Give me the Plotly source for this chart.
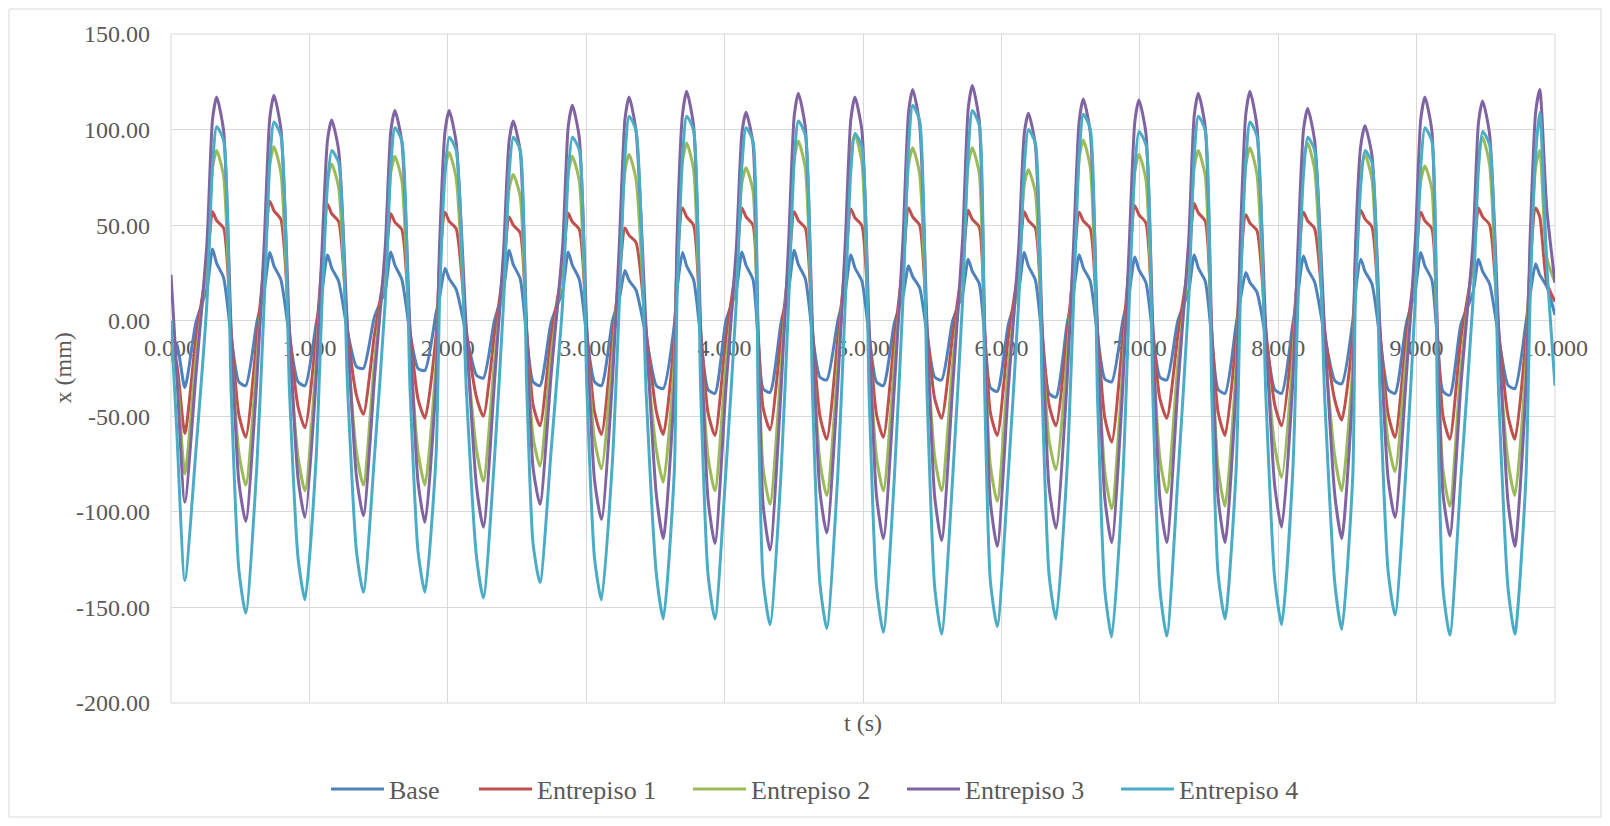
import plotly.graph_objects as go

t = [0, 0.04,
     0.10, 0.18, 0.26, 0.30, 0.33, 0.38, 0.435, 0.49,
     0.54, 0.62, 0.674, 0.714, 0.744, 0.794, 0.856, 0.918,
     0.968, 1.048, 1.091, 1.131, 1.161, 1.211, 1.276, 1.34,
     1.39, 1.47, 1.548, 1.588, 1.618, 1.668, 1.727, 1.785,
     1.835, 1.915, 1.94, 1.98, 2.01, 2.06, 2.134, 2.207,
     2.257, 2.337, 2.403, 2.443, 2.473, 2.523, 2.57, 2.616,
     2.666, 2.746, 2.83, 2.87, 2.90, 2.95, 3.005, 3.06,
     3.11, 3.19, 3.24, 3.28, 3.31, 3.36, 3.434, 3.507,
     3.557, 3.637, 3.656, 3.696, 3.726, 3.776, 3.828, 3.88,
     3.93, 4.01, 4.085, 4.125, 4.155, 4.205, 4.242, 4.278,
     4.328, 4.408, 4.463, 4.503, 4.533, 4.583, 4.636, 4.688,
     4.738, 4.818, 4.872, 4.912, 4.942, 4.992, 5.045, 5.097,
     5.147, 5.227, 5.289, 5.329, 5.359, 5.409, 5.464, 5.518,
     5.568, 5.648, 5.72, 5.76, 5.79, 5.84, 5.88, 5.92,
     5.97, 6.05, 6.125, 6.165, 6.195, 6.245, 6.295, 6.344,
     6.394, 6.474, 6.522, 6.562, 6.592, 6.642, 6.695, 6.747,
     6.797, 6.877, 6.924, 6.964, 6.994, 7.044, 7.095, 7.145,
     7.195, 7.275, 7.353, 7.393, 7.423, 7.473, 7.52, 7.566,
     7.616, 7.696, 7.726, 7.766, 7.796, 7.846, 7.911, 7.975,
     8.025, 8.105, 8.143, 8.183, 8.213, 8.263, 8.336, 8.409,
     8.459, 8.539, 8.557, 8.597, 8.627, 8.677, 8.736, 8.794,
     8.844, 8.924, 8.99, 9.03, 9.06, 9.11, 9.15, 9.19,
     9.24, 9.32, 9.407, 9.447, 9.477, 9.527, 9.594, 9.66,
     9.71, 9.79, 9.82, 9.86, 9.89, 9.94, 10.0]

base = [-10, -12,
        -35, -1, 17, 37.5, 30, 22.5, -8.5, -32,
        -34, -1, 16, 35.7, 28.6, 21.4, -8.5, -32,
        -34, -2, 15.5, 34.5, 27.6, 20.7, -6, -24,
        -25, 2, 16, 36, 29, 21.6, -6.5, -25,
        -26, 4, 12, 27.5, 22, 16.5, -7.5, -28.5,
        -30, 0, 16.5, 36.8, 29.4, 22, -8.5, -32,
        -34, -1, 16, 36, 29, 21.6, -8.5, -32,
        -34, 0, 12, 26.3, 21, 16, -9, -34,
        -35.5, -2, 16, 35.7, 28.6, 21.4, -9.5, -36,
        -38, 0, 16, 36, 29, 21.6, -9.5, -35.6,
        -37.5, -1, 16.5, 36.8, 29.4, 22, -8, -29.5,
        -31, 0, 15.5, 34.5, 27.6, 20.7, -8.5, -32,
        -34, -1, 13, 28.7, 23, 17.2, -8, -29.5,
        -31, 0, 14.5, 32.2, 25.8, 19.3, -9, -35,
        -37, -2, 16, 35.7, 28.6, 21.4, -10, -38,
        -40, -2, 15.5, 34.5, 27.6, 20.7, -8, -30.4,
        -32, 0, 15, 33.3, 26.6, 20, -8, -29.5,
        -31, 0, 15.5, 34.5, 27.6, 20.7, -9.5, -36,
        -38, -2, 11, 25.2, 20, 15, -9.5, -36,
        -38, -2, 15, 33.8, 27, 20.3, -8, -31.4,
        -33, 0, 14.5, 32.2, 25.8, 19.3, -9.5, -36,
        -38, -2, 16, 35.7, 28.6, 21.4, -10, -37,
        -39, -2, 14.5, 32.2, 25.8, 19.3, -9, -33.7,
        -35.5, -1, 13.5, 29.8, 24, 18, 3]

entrepiso1 = [-15, -22,
              -59, -9, 28.5, 57, 52.4, 48.5, -6, -49,
              -61, -9, 31, 62.5, 57.5, 53, -5.6, -45,
              -56, -8.4, 30.5, 61, 56, 52, -4.9, -39,
              -49, -7.4, 28, 56, 51.5, 47.6, -5.1, -41,
              -51, -7.7, 28.4, 56.7, 52, 48.2, -5, -40,
              -50, -7.5, 27, 54.3, 50, 46, -5.5, -44,
              -55, -8.3, 28, 56.2, 51.7, 47.8, -6, -47.6,
              -59.5, -9, 24, 48.5, 44.6, 41, -6, -47.6,
              -59.5, -9, 29.5, 59, 54.3, 50, -6, -48,
              -60, -9, 29.5, 59, 54.3, 50, -5.7, -45.6,
              -57, -8.6, 28.5, 57, 52.4, 48.5, -6.2, -49.6,
              -62, -9.3, 29, 58.5, 53.8, 49.7, -6.1, -48.8,
              -61, -9, 29.5, 59, 54.3, 50, -5.1, -40.8,
              -51, -7.7, 29, 57.8, 53, 49, -6, -48,
              -60, -9, 28.5, 57, 52.4, 48.5, -5.5, -44,
              -55, -8.3, 28.4, 56.7, 52.2, 48.2, -6.4, -50.8,
              -63.5, -9.5, 30, 60.2, 55.4, 51.2, -5.1, -40.8,
              -51, -7.7, 30.6, 61.3, 56.4, 52.1, -6, -48,
              -60, -9, 27.8, 55.5, 51, 47.2, -5.5, -44,
              -55, -8.3, 28.4, 56.7, 52.2, 48.2, -5.2, -41.6,
              -52, -7.8, 29, 57.8, 53.2, 49.1, -6.1, -48.8,
              -61, -9.2, 28.4, 56.7, 52.2, 48.2, -6.2, -49.6,
              -62, -9.3, 29.5, 59, 54.3, 50.2, -6.2, -49.6,
              -62, -9.3, 29.5, 59, 54.3, 20, 10]

entrepiso2 = [-18, -28,
              -80, -20, 31, 80, 89, 75.6, -12.9, -68.8,
              -86, -21.5, 31.9, 81.9, 91, 77.4, -13.4, -71.2,
              -89, -22.3, 28.7, 73.8, 82, 69.7, -12.9, -68.8,
              -86, -21.5, 30.1, 77.4, 86, 73.1, -12.9, -68.8,
              -86, -21.5, 30.8, 79.2, 88, 74.8, -12.6, -67.2,
              -84, -21, 26.8, 68.9, 76.5, 65, -11.4, -60.8,
              -76, -19, 30.1, 77.4, 86, 73.1, -11.6, -62,
              -77.5, -19.4, 30.5, 78.3, 87, 74, -12.7, -67.6,
              -84.5, -21.1, 32.6, 83.7, 93, 79, -13.4, -71.2,
              -89, -22.3, 28, 72, 80, 68, -14.4, -76.8,
              -96, -24, 32.9, 84.6, 94, 79.9, -13.7, -73.2,
              -91.5, -22.9, 34.1, 87.8, 97.5, 82.9, -13.4, -71.2,
              -89, -22.3, 31.7, 81.5, 90.5, 76.9, -13.4, -71.2,
              -89, -22.3, 31.7, 81.5, 90.5, 76.9, -14.2, -75.6,
              -94.5, -23.6, 27.7, 71.1, 79, 67.2, -11.7, -62.4,
              -78, -19.5, 33.1, 85, 94.5, 80.3, -14.8, -78.8,
              -98.5, -24.6, 30.5, 78.3, 87, 74, -13.5, -72,
              -90, -22.5, 31.2, 80.1, 89, 75.7, -14.6, -77.6,
              -97, -24.3, 31.7, 81.5, 90.5, 76.9, -12.3, -65.6,
              -82, -20.5, 32.6, 83.7, 93, 79, -13.4, -71.2,
              -89, -22.3, 30.5, 78.3, 87, 74, -11.9, -63.2,
              -79, -19.8, 28.4, 72.9, 81, 68.9, -14.6, -77.6,
              -97, -24.3, 33.6, 86.4, 96, 81.6, -13.7, -73.2,
              -91.5, -22.9, 31.2, 80.1, 89, 33, 20]

entrepiso3 = [24, -25,
              -95, -28.5, 41, 105.3, 117, 99.5, -5.3, -84,
              -105, -31.5, 41.3, 106.2, 118, 100.3, -5.2, -82.4,
              -103, -30.9, 36.8, 94.5, 105, 89.3, -5.1, -81.6,
              -102, -30.6, 38.5, 99, 110, 93.5, -5.3, -84.4,
              -105.5, -31.7, 38.5, 99, 110, 93.5, -5.4, -86.4,
              -108, -32.4, 36.6, 94, 104.5, 88.8, -4.8, -76.8,
              -96, -28.8, 39.4, 101.4, 112.7, 95.8, -5.2, -83.2,
              -104, -31.2, 41, 105.3, 117, 99.5, -5.7, -91.2,
              -114, -34.2, 42, 108, 120, 102, -5.8, -93.2,
              -116.5, -35, 38.2, 98.1, 109, 92.7, -6, -96,
              -120, -36, 41.7, 107.1, 119, 101.2, -5.6, -88.8,
              -111, -33.3, 41, 105.3, 117, 99.5, -5.7, -91.2,
              -114, -34.2, 42.4, 108.9, 121, 102.9, -5.8, -92,
              -115, -34.5, 43, 110.7, 123, 104.6, -5.9, -94.4,
              -118, -35.4, 38, 97.7, 108.5, 92.2, -5.4, -86.8,
              -108.5, -32.6, 40.6, 104.4, 116, 98.6, -5.8, -92.8,
              -116, -34.8, 40.4, 104, 115.5, 98.2, -5.8, -92.8,
              -116, -34.8, 41.7, 107.1, 119, 101.2, -5.8, -92.8,
              -116, -34.8, 42, 108, 120, 102, -5.4, -86.4,
              -108, -32.4, 38.9, 99.9, 111, 94.4, -5.7, -91.2,
              -114, -34.2, 35.7, 91.8, 102, 86.7, -5.2, -82.4,
              -103, -30.9, 41, 105.3, 117, 99.5, -5.6, -90,
              -112.5, -33.8, 40.3, 103.5, 115, 97.8, -5.9, -94.4,
              -118, -35.4, 42.4, 108.9, 121, 59, 20]

entrepiso4 = [0, -55,
              -136, -68, 10, 81, 101.5, 94.4, -38, -130,
              -153, -76.5, 10.4, 83.2, 104, 96.7, -36.5, -124,
              -146, -73, 8.9, 71.2, 89, 82.8, -35.5, -120.7,
              -142, -71, 10.1, 80.8, 101, 93.9, -35.5, -120.7,
              -142, -71, 9.6, 76.8, 96, 89.3, -36.3, -123.3,
              -145, -72.5, 9.6, 76.8, 96, 89.3, -34.3, -116.5,
              -137, -68.5, 9.6, 76.8, 96, 89.3, -36.5, -124.1,
              -146, -73, 10.7, 85.6, 107, 99.5, -39, -132.6,
              -156, -78, 10.7, 85.6, 107, 99.5, -39, -132.6,
              -156, -78, 10.1, 80.8, 101, 93.9, -39.8, -135.2,
              -159, -79.5, 10.5, 83.6, 104.5, 97.2, -40.3, -136.9,
              -161, -80.5, 9.8, 78.4, 98, 91.1, -40.8, -138.6,
              -163, -81.5, 11.3, 90.2, 112.7, 104.8, -41, -139.4,
              -164, -82, 11, 88, 110, 102.3, -40, -136,
              -160, -80, 10, 80, 100, 93, -39, -132.6,
              -156, -78, 10.8, 86.4, 108, 100.4, -41.4, -140.7,
              -165.5, -82.8, 9.9, 79.2, 99, 92.1, -41.3, -140.3,
              -165, -82.5, 10.7, 85.6, 107, 99.5, -39, -132.6,
              -156, -78, 10.4, 83.2, 104, 96.7, -39.8, -135.2,
              -159, -79.5, 9.6, 76.8, 96, 89.3, -40.4, -137.3,
              -161.5, -80.8, 8.9, 71.2, 89, 82.8, -38.5, -130.9,
              -154, -77, 10.1, 80.8, 101, 93.9, -41.1, -139.8,
              -164.5, -82.3, 9.9, 79.2, 99, 92.1, -41, -139.4,
              -164, -82, 10.9, 87.2, 109, 30, -34]

names = ["Base", "Entrepiso 1", "Entrepiso 2", "Entrepiso 3", "Entrepiso 4"]
colors = ["#4F81BD", "#C0504D", "#9BBB59", "#8064A2", "#4BACC6"]
series = [base, entrepiso1, entrepiso2, entrepiso3, entrepiso4]

x_ticks = [0, 1, 2, 3, 4, 5, 6, 7, 8, 9, 10]
x_tick_text = ["0.000", "1.000", "2.000", "3.000", "4.000", "5.000",
               "6.000", "7.000", "8.000", "9.000", "10.000"]
y_ticks = [-200, -150, -100, -50, 0, 50, 100, 150]
y_tick_text = ["-200.00", "-150.00", "-100.00", "-50.00", "0.00", "50.00", "100.00", "150.00"]

for s in series:
    assert len(s) == len(t), (len(s), len(t))

FONT = "Liberation Serif, Times New Roman, serif"
TXT = "#595959"
GRID = "#D9D9D9"

# page has an 8px body margin; the figure is sized to fit the 1610x826 window
W, H = 1594, 810
ML, MR, MT, MB = 163, 47, 26, 115
PW = W - ML - MR   # plot width in px
PH = H - MT - MB   # plot height in px

legend_widths = [80, 146, 146, 146, 146]

fig = go.Figure()
for name, col, ys, lw in zip(names, colors, series, legend_widths):
    fig.add_trace(go.Scatter(
        x=t, y=ys, name=name, mode="lines", legendwidth=lw,
        line=dict(color=col, width=3, shape="spline", smoothing=0.6),
    ))

fig.update_layout(
    width=W, height=H,
    margin=dict(l=ML, r=MR, t=MT, b=MB, autoexpand=False),
    paper_bgcolor="white", plot_bgcolor="white",
    font=dict(family=FONT, size=24, color=TXT),
    showlegend=True,
    legend=dict(orientation="h", x=(326 - 171) / PW, xanchor="left",
                y=(703 - 789) / PH, yanchor="middle",
                font=dict(family=FONT, size=26, color=TXT), itemwidth=53,
                traceorder="normal", bgcolor="rgba(0,0,0,0)"),
    xaxis=dict(range=[0, 10], tickmode="array", tickvals=x_ticks, ticktext=x_tick_text,
               showgrid=True, gridcolor=GRID, gridwidth=1, zeroline=False,
               showline=False, ticks="", anchor="free", position=200 / 350,
               layer="below traces", ticklabelstandoff=10, automargin=False,
               tickfont=dict(family=FONT, size=24, color=TXT)),
    yaxis=dict(range=[-200, 150], tickmode="array", tickvals=y_ticks, ticktext=y_tick_text,
               showgrid=True, gridcolor=GRID, gridwidth=1,
               zeroline=False, showline=False, ticks="", domain=[0, 1],
               ticklabelstandoff=20, automargin=False,
               tickfont=dict(family=FONT, size=24, color=TXT)),
    annotations=[
        dict(text="t (s)", xref="paper", yref="paper", x=0.5, y=(703 - 723) / PH,
             xanchor="center", yanchor="middle", showarrow=False,
             font=dict(family=FONT, size=24, color=TXT)),
        dict(text="x (mm)", xref="paper", yref="paper", x=(62 - 171) / PW, y=0.5,
             xanchor="center", yanchor="middle", showarrow=False, textangle=-90,
             font=dict(family=FONT, size=24, color=TXT)),
    ],
    shapes=[
        dict(type="rect", xref="paper", yref="paper", x0=0, x1=1, y0=0, y1=1,
             line=dict(color=GRID, width=1), layer="below"),
        dict(type="rect", xref="paper", yref="paper",
             x0=(9 - 171) / PW, x1=(1601 - 171) / PW,
             y0=(703 - 817) / PH, y1=(703 - 9) / PH,
             line=dict(color=GRID, width=1), layer="below"),
    ],
)

fig.write_html("out.html")
